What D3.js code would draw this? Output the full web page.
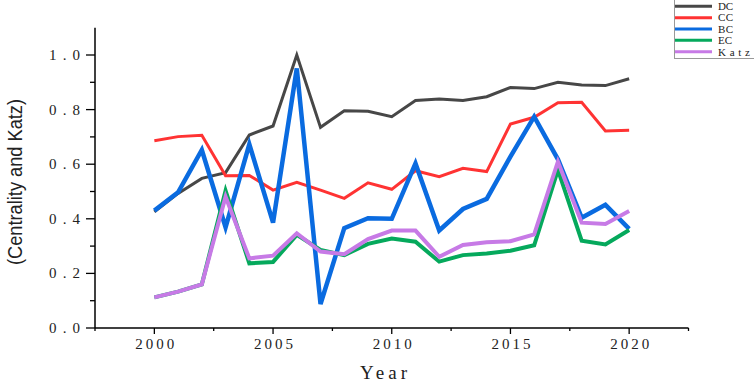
<!DOCTYPE html>
<html>
<head>
<meta charset="utf-8">
<script src="https://cdn.jsdelivr.net/npm/d3@7"></script>
<style>
  html, body { margin: 0; padding: 0; background: #fff; }
  svg { display: block; }
</style>
</head>
<body>
<div id="vis1"></div>
<script>
// data
const years = d3.range(2000, 2021);
const dc   = [0.426, 0.493, 0.548, 0.569, 0.707, 0.740, 1.000, 0.735, 0.796, 0.794, 0.774, 0.833, 0.839, 0.833, 0.847, 0.881, 0.877, 0.900, 0.890, 0.888, 0.913];
const cc   = [0.686, 0.701, 0.706, 0.558, 0.559, 0.505, 0.534, 0.505, 0.475, 0.532, 0.508, 0.576, 0.554, 0.585, 0.573, 0.747, 0.772, 0.825, 0.827, 0.722, 0.724];
const bc   = [0.430, 0.497, 0.652, 0.369, 0.673, 0.386, 0.951, 0.088, 0.366, 0.402, 0.400, 0.603, 0.357, 0.436, 0.473, 0.628, 0.774, 0.618, 0.404, 0.451, 0.363];
const ec   = [0.112, 0.133, 0.160, 0.503, 0.237, 0.242, 0.341, 0.286, 0.267, 0.308, 0.328, 0.316, 0.243, 0.267, 0.273, 0.283, 0.303, 0.579, 0.320, 0.306, 0.359];
const katz = [0.112, 0.133, 0.160, 0.481, 0.255, 0.265, 0.347, 0.280, 0.270, 0.326, 0.357, 0.357, 0.261, 0.304, 0.314, 0.318, 0.343, 0.609, 0.386, 0.381, 0.429];

const seriesNames = ["DC", "CC", "BC", "EC", "Katz"];
const seriesValues = [dc, cc, bc, ec, katz];
const colors = ["#474747", "#ff3333", "#0a6be0", "#05a95c", "#c77ae6"];
const widths = [3, 3, 4.5, 4, 4];

const xTicks = [2000, 2005, 2010, 2015, 2020];
const yTicks = [0, 0.2, 0.4, 0.6, 0.8, 1.0];

const W = 754, H = 382;
const svg = d3.select("#vis1").append("svg")
  .attr("width", W).attr("height", H)
  .attr("viewBox", [0, 0, W, H].join(" "));

const x = d3.scaleLinear().domain([1997.5, 2022.5]).range([95, 688.5]);
const y = d3.scaleLinear().domain([0, 1.1]).range([328, 27.7]);

const serif = "'Liberation Serif', 'DejaVu Serif', serif";
const txtColor = "#222";

// x axis
const gx = svg.append("g").attr("transform", `translate(0,${y(0)})`);
gx.append("line").attr("x1", x(1997.5)).attr("x2", x(2022.5))
  .attr("stroke", "#000").attr("stroke-width", 1.5);
d3.range(1997.5, 2023, 2.5).forEach(v => {
  const major = xTicks.includes(v);
  gx.append("line").attr("x1", x(v)).attr("x2", x(v))
    .attr("y1", 0).attr("y2", major ? 6 : 3)
    .attr("stroke", "#000").attr("stroke-width", 1.3);
});
gx.selectAll("text.tx").data(xTicks).join("text")
  .attr("class", "tx")
  .attr("x", d => x(d) - 19).attr("y", 20.5)
  .attr("font-family", serif).attr("font-size", 15)
  .attr("textLength", 39).attr("lengthAdjust", "spacing")
  .attr("fill", txtColor)
  .text(d => d);

// y axis
const gy = svg.append("g").attr("transform", `translate(${x(1997.5)},0)`);
gy.append("line").attr("y1", y(0)).attr("y2", y(1.1))
  .attr("stroke", "#000").attr("stroke-width", 1.5);
d3.range(0, 11).forEach(i => {
  const v = i / 10;
  const major = i % 2 === 0;
  gy.append("line").attr("x1", major ? -9 : -5).attr("x2", 0)
    .attr("y1", y(v)).attr("y2", y(v))
    .attr("stroke", "#000").attr("stroke-width", 1.3);
});
gy.selectAll("text.ty").data(yTicks).join("text")
  .attr("class", "ty")
  .attr("x", -46).attr("y", d => y(d) + 5)
  .attr("font-family", serif).attr("font-size", 15)
  .attr("textLength", 31).attr("lengthAdjust", "spacing")
  .attr("fill", txtColor)
  .text(d => d.toFixed(1));

// axis titles
svg.append("text")
  .attr("x", 360).attr("y", 379)
  .attr("font-family", serif).attr("font-size", 19)
  .attr("textLength", 47).attr("lengthAdjust", "spacing")
  .attr("fill", txtColor)
  .text("Year");

svg.append("text")
  .attr("transform", "translate(22,265) rotate(-90)")
  .attr("font-family", "'Liberation Sans', 'DejaVu Sans', sans-serif")
  .attr("font-size", 20)
  .attr("textLength", 166).attr("lengthAdjust", "spacingAndGlyphs")
  .attr("fill", txtColor)
  .text("(Centrality and Katz)");

// lines
const line = d3.line()
  .x((d, i) => x(years[i]))
  .y(d => y(d));

svg.selectAll("path.series").data(seriesValues).join("path")
  .attr("class", "series")
  .attr("d", line)
  .attr("fill", "none")
  .attr("stroke", (d, i) => colors[i])
  .attr("stroke-width", (d, i) => widths[i])
  .attr("stroke-linejoin", "miter")
  .attr("stroke-miterlimit", 4);

// legend
const legendLen = [15, 15, 15, 14, 32];
const lg = svg.append("g");
lg.append("rect")
  .attr("x", 674.5).attr("y", -1).attr("width", 90).attr("height", 59.5)
  .attr("fill", "#fff").attr("stroke", "#999").attr("stroke-width", 1);
seriesNames.forEach((name, i) => {
  const ly = 6.3 + i * 11.35;
  lg.append("line").attr("x1", 675).attr("x2", 712)
    .attr("y1", ly).attr("y2", ly)
    .attr("stroke", colors[i]).attr("stroke-width", 3);
  lg.append("text").attr("x", 718).attr("y", ly + 3.8)
    .attr("font-family", serif).attr("font-size", 11)
    .attr("textLength", legendLen[i]).attr("lengthAdjust", "spacing")
    .attr("fill", txtColor)
    .text(name);
});
</script>
</body>
</html>
